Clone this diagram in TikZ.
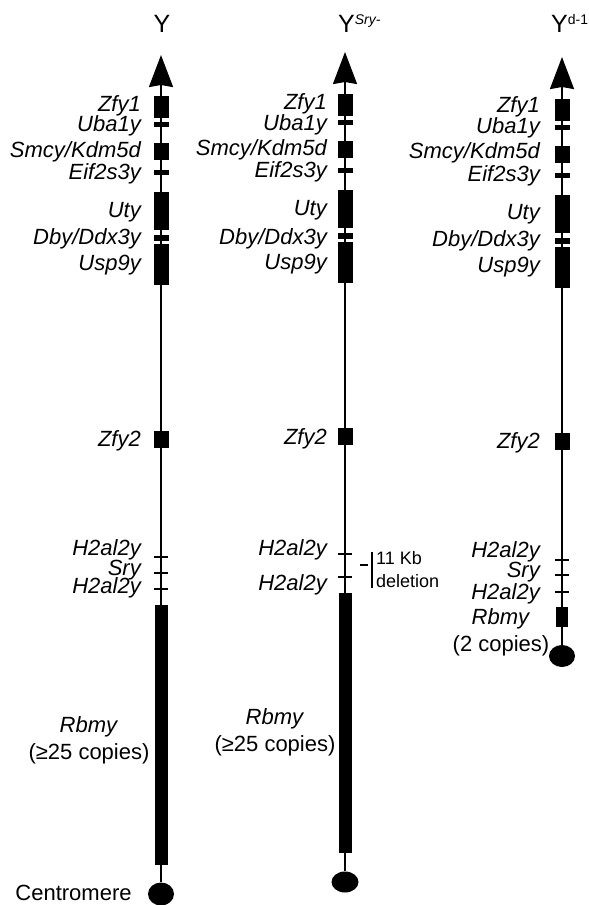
\documentclass[tikz,border=0pt]{standalone}
\usepackage{fontspec}
\setmainfont{Liberation Sans}
\usetikzlibrary{arrows.meta, positioning, shapes.geometric, backgrounds}

\begin{document}
\begin{tikzpicture}[x=1pt, y=-1pt,
    title/.style={anchor=base west, inner sep=0pt, font=\fontsize{25}{30}\selectfont},
    gene/.style={anchor=base east, inner sep=0pt, font=\fontsize{22}{26}\selectfont\itshape},
    block/.style={fill, minimum width=15pt, inner sep=0pt},
    bar/.style={fill, minimum width=15pt, minimum height=5pt, inner sep=0pt},
    tick/.style={fill, minimum width=14pt, minimum height=2.5pt, inner sep=0pt},
    repeats/.style={fill, minimum width=13pt, inner sep=0pt},
    cen/.style={ellipse, fill, minimum width=26pt, minimum height=23pt, inner sep=0pt},
    axis/.style={line width=2pt, -{Stealth[length=32pt, width=24pt, inset=2pt]}},
    copies/.style={align=center, inner sep=0pt, font=\fontsize{22}{27}\selectfont},
    note/.style={align=left, inner sep=0pt, font=\fontsize{18}{23}\selectfont}]

  \useasboundingbox (0,0) rectangle (589,905);

  % Y - left
  \node[title] (ytitle) at (153.5,32) {Y};
  \coordinate (ytip) at (161,55);
  \node[block, minimum height=22pt] (yzfy1) at (161,107) {};
  \node[bar] (yuba) at (161,124.5) {};
  \node[block, minimum height=17pt] (ysmcy) at (161,151) {};
  \node[bar] (yeif) at (161,172.5) {};
  \node[block, minimum height=38pt] (yuty) at (161,211) {};
  \node[bar, minimum height=6pt] (ydby) at (161,237.5) {};
  \node[block, minimum height=41pt] (yusp) at (161,264.5) {};
  \node[block, minimum height=17pt] (yzfy2) at (161,439) {};
  \node[tick] (yh2a) at (161,557) {};
  \node[tick] (ysry) at (161,573) {};
  \node[tick] (yh2b) at (161,589) {};
  \node[repeats, minimum height=260pt] (yrbmy) at (161,735) {};
  \node[cen] (ycen) at (161,894) {};

  \node[gene] at (141,111.5) {Zfy1};
  \node[gene] at (141,131.5) {Uba1y};
  \node[gene] at (141,157.5) {Smcy/Kdm5d};
  \node[gene] at (141,179.5) {Eif2s3y};
  \node[gene] at (141,217.5) {Uty};
  \node[gene] at (141,244.5) {Dby/Ddx3y};
  \node[gene] at (141,270.5) {Usp9y};
  \node[gene] at (141,446.5) {Zfy2};
  \node[gene] at (141,555.5) {H2al2y};
  \node[gene] at (141,575.5) {Sry};
  \node[gene] at (141,593.5) {H2al2y};
  \node[copies] (yrbmylab) at (89,740) {\textit{Rbmy}\\(≥25 copies)};
  \node[copies] (centlab) at (73.5,893) {Centromere};

  % Y^Sry- - middle
  \node[title] (srytitle) at (338,32) {Y\raisebox{8pt}{\fontsize{14}{14}\selectfont\textit{Sry-}}};
  \coordinate (srytip) at (345,52);
  \node[block, minimum height=22pt] (sryzfy1) at (345,105) {};
  \node[bar] (sryuba) at (345,122.5) {};
  \node[block, minimum height=17pt] (srysmcy) at (345,149) {};
  \node[bar] (sryeif) at (345,170.5) {};
  \node[block, minimum height=38pt] (sryuty) at (345,209) {};
  \node[bar, minimum height=6pt] (srydby) at (345,235.5) {};
  \node[block, minimum height=41pt] (sryusp) at (345,262.5) {};
  \node[block, minimum height=17pt] (sryzfy2) at (345,436.5) {};
  \node[tick] (sryh2a) at (345,554) {};
  \node[tick] (sryh2b) at (345,577) {};
  \node[repeats, minimum height=260pt] (sryrbmy) at (345,723) {};
  \node[cen, minimum width=27pt, minimum height=21pt] (srycen) at (345,882) {};

  \node[gene] at (327,109.5) {Zfy1};
  \node[gene] at (327,130.5) {Uba1y};
  \node[gene] at (327,155.5) {Smcy/Kdm5d};
  \node[gene] at (327,177.5) {Eif2s3y};
  \node[gene] at (327,215.5) {Uty};
  \node[gene] at (327,244.5) {Dby/Ddx3y};
  \node[gene] at (327,269.5) {Usp9y};
  \node[gene] at (327,444.5) {Zfy2};
  \node[gene] at (327,555.5) {H2al2y};
  \node[gene] at (327,590.5) {H2al2y};
  \node[copies] (sryrbmylab) at (275,732) {\textit{Rbmy}\\(≥25 copies)};

  % 11 Kb deletion bracket
  \coordinate (delA) at (360,565);
  \coordinate (delB) at (368,565);
  \coordinate (delTop) at (372,552);
  \coordinate (delBot) at (372,588);
  \draw[line width=1.6pt] (delA) -- (delB);
  \draw[line width=1.6pt] (delTop) -- (delBot);
  \node[note, anchor=west] (dellab) at (376,570) {11 Kb\\deletion};

  % Y^d-1 - right
  \node[title] (dtitle) at (551,32) {Y\raisebox{8pt}{\fontsize{14}{14}\selectfont d-1}};
  \coordinate (dtip) at (562,57);
  \node[block, minimum height=22pt] (dzfy1) at (562,110) {};
  \node[bar] (duba) at (562,127.5) {};
  \node[block, minimum height=17pt] (dsmcy) at (562,154) {};
  \node[bar] (deif) at (562,175.5) {};
  \node[block, minimum height=38pt] (duty) at (562,214) {};
  \node[bar, minimum height=6pt] (ddby) at (562,240.5) {};
  \node[block, minimum height=41pt] (dusp) at (562,267) {};
  \node[block, minimum height=17pt] (dzfy2) at (562,441.5) {};
  \node[tick] (dh2a) at (562,560) {};
  \node[tick] (dsry) at (562,575) {};
  \node[tick] (dh2b) at (562,592) {};
  \node[repeats, minimum width=12pt, minimum height=20pt] (drbmy) at (562,617) {};
  \node[cen, minimum height=22pt] (dcen) at (562,656) {};

  \node[gene] at (540,112.5) {Zfy1};
  \node[gene] at (540,133.5) {Uba1y};
  \node[gene] at (540,158.5) {Smcy/Kdm5d};
  \node[gene] at (540,181.5) {Eif2s3y};
  \node[gene] at (540,219.5) {Uty};
  \node[gene] at (540,246.5) {Dby/Ddx3y};
  \node[gene] at (540,272.5) {Usp9y};
  \node[gene] at (540,448.5) {Zfy2};
  \node[gene] at (540,557.5) {H2al2y};
  \node[gene] at (540,577.5) {Sry};
  \node[gene] at (540,599.5) {H2al2y};
  \node[copies] (drbmylab) at (501,632) {\textit{Rbmy}\\(2 copies)};

  % chromosome axes behind the genes
  \begin{scope}[on background layer]
    \draw[axis] (ycen) -- (ytip);
    \draw[axis] (srycen) -- (srytip);
    \draw[axis] (dcen) -- (dtip);
  \end{scope}
\end{tikzpicture}
\end{document}
